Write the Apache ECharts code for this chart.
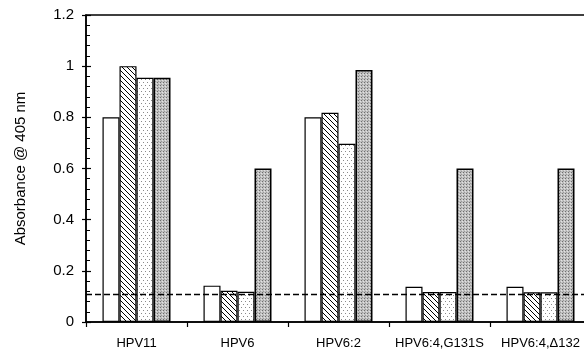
<!DOCTYPE html>
<html>
<head>
<meta charset="utf-8">
<script src="https://cdn.jsdelivr.net/npm/echarts@6/dist/echarts.min.js"></script>
<style>html,body{margin:0;padding:0;background:#fff;overflow:hidden}#c{width:591px;height:352px}</style>
</head>
<body>
<div id="c"></div>
<script>
var categories = ['HPV11', 'HPV6', 'HPV6:2', 'HPV6:4,G131S', 'HPV6:4,\u0394132'];
var seriesOpen = [0.80, 0.142, 0.80, 0.138, 0.138];
var seriesHatched = [1.00, 0.122, 0.818, 0.117, 0.116];
var seriesLight = [0.955, 0.118, 0.697, 0.117, 0.116];
var seriesDark = [0.955, 0.60, 0.985, 0.60, 0.60];
var cutoff = 0.112;
var yTicks = { min: 0, max: 1.2, interval: 0.2 };

function makeCanvas(w, h) { var c = document.createElement('canvas'); c.width = w; c.height = h; return c; }
function hatchPattern() {
  var s = 5, c = makeCanvas(s, s), g = c.getContext('2d');
  g.fillStyle = '#fff'; g.fillRect(0, 0, s, s);
  g.strokeStyle = '#000'; g.lineWidth = 1.0;
  g.beginPath();
  g.moveTo(-1, -1); g.lineTo(s + 1, s + 1);
  g.moveTo(-1, s - 1); g.lineTo(1, s + 1);
  g.moveTo(s - 1, -1); g.lineTo(s + 1, 1);
  g.stroke();
  return c;
}
function lightDots() {
  var c = makeCanvas(4, 6), g = c.getContext('2d');
  g.fillStyle = '#fff'; g.fillRect(0, 0, 4, 6);
  g.fillStyle = '#8a8a8a';
  g.fillRect(1, 1, 1, 1); g.fillRect(3, 4, 1, 1);
  return c;
}
function darkDots() {
  var c = makeCanvas(3, 3), g = c.getContext('2d');
  g.fillStyle = '#c2c2c2'; g.fillRect(0, 0, 3, 3);
  g.fillStyle = '#6e6e6e'; g.fillRect(1, 1, 1, 1);
  g.fillStyle = '#e2e2e2'; g.fillRect(0, 2, 1, 1);
  g.fillStyle = '#9a9a9a'; g.fillRect(2, 0, 1, 1);
  return c;
}

var font = 'Liberation Sans, Arial, sans-serif';
var chart = echarts.init(document.getElementById('c'), null, { renderer: 'canvas' });

function barSeries(name, data, fill, bw) {
  return {
    name: name, type: 'bar', data: data, barWidth: 17, barGap: '0%',
    itemStyle: { color: fill, borderColor: '#000', borderWidth: bw },
    emphasis: { disabled: true }
  };
}

var series = [
  barSeries('a', seriesOpen, '#fff', 1.2),
  barSeries('b', seriesHatched, { image: hatchPattern(), repeat: 'repeat' }, 1.2),
  barSeries('c', seriesLight, { image: lightDots(), repeat: 'repeat' }, 1.2),
  barSeries('d', seriesDark, { image: darkDots(), repeat: 'repeat' }, 1.6)
];
series[3].markLine = {
  silent: true, symbol: 'none', label: { show: false },
  lineStyle: { color: '#000', type: [6, 3], width: 1.4 },
  data: [{ yAxis: cutoff }]
};

chart.setOption({
  animation: false,
  backgroundColor: '#fff',
  grid: { left: 86, right: 0, top: 15, bottom: 30, show: true, borderColor: '#000', borderWidth: 1.5, backgroundColor: 'transparent' },
  xAxis: {
    type: 'category', data: categories,
    axisLine: { lineStyle: { color: '#000', width: 1.5 } },
    axisTick: { show: true, length: 5, lineStyle: { color: '#000', width: 1.2 } },
    axisLabel: { color: '#000', fontSize: 13, fontFamily: font, margin: 15, interval: 0 },
    splitLine: { show: false }
  },
  yAxis: [{
    type: 'value', position: 'left', min: yTicks.min, max: yTicks.max, interval: yTicks.interval,
    name: 'Absorbance @ 405 nm', nameLocation: 'middle', nameGap: 58,
    nameTextStyle: { color: '#000', fontSize: 15, fontFamily: font },
    axisLine: { show: true, lineStyle: { color: '#000', width: 1.5 } },
    axisTick: { show: true, inside: true, length: 5, lineStyle: { color: '#000', width: 1.2 } },
    minorTick: { show: true, splitNumber: 5, length: 4, lineStyle: { color: '#000', width: 1 } },
    axisLabel: { color: '#000', fontSize: 15, fontFamily: font, margin: 12 },
    splitLine: { show: false }
  }, {
    type: 'value', position: 'left', min: yTicks.min, max: yTicks.max, interval: yTicks.interval,
    axisLine: { show: false },
    axisTick: { show: true, inside: false, length: 4, lineStyle: { color: '#000', width: 1.2 } },
    axisLabel: { show: false },
    splitLine: { show: false }
  }],
  series: series
});
</script>
</body>
</html>
